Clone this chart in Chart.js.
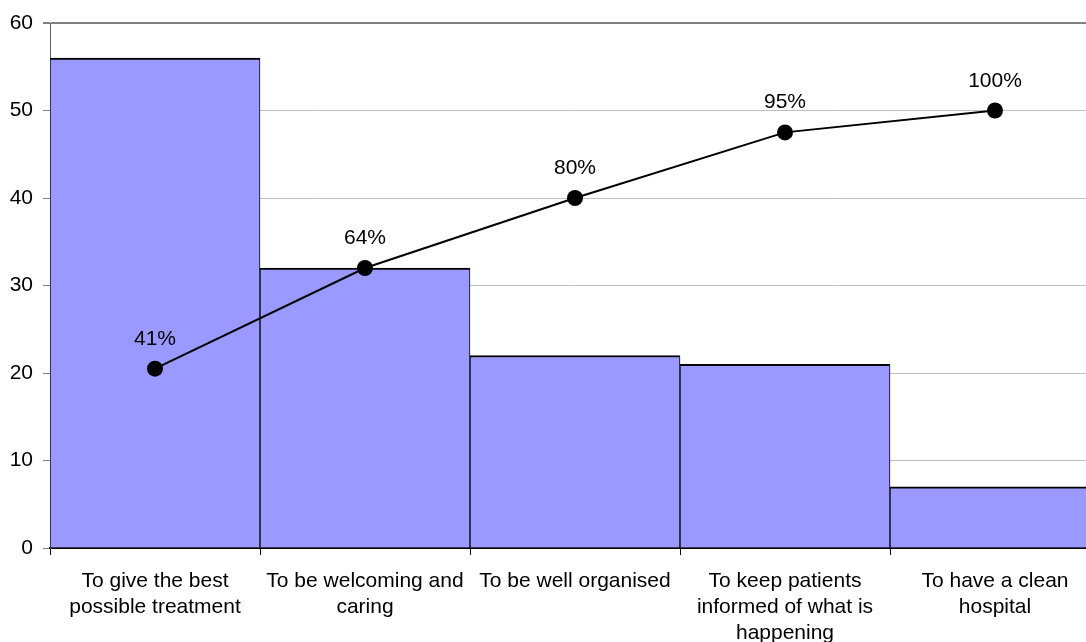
<!DOCTYPE html>
<html>
<head>
<meta charset="utf-8">
<script src="https://cdn.jsdelivr.net/npm/chart.js@4/dist/chart.umd.min.js"></script>
<style>
  html, body { margin: 0; padding: 0; background: #fff; overflow: hidden; width: 1086px; height: 642px; }
  #wrap { position: absolute; left: 0; top: 0; width: 1108px; height: 642px; }
</style>
</head>
<body>
<div id="wrap"><canvas id="c" width="1108" height="642"></canvas></div>
<script>
// Reasons patients gave, with counts and cumulative share
const categories = [
  ['To give the best', 'possible treatment'],
  ['To be welcoming and', 'caring'],
  ['To be well organised'],
  ['To keep patients', 'informed of what is', 'happening'],
  ['To have a clean', 'hospital']
];
const counts = [56, 32, 22, 21, 7];
const cumulativePercent = [41, 64, 80, 95, 100];
const yTicks = [0, 10, 20, 30, 40, 50, 60];

const FONT = { family: '"Liberation Sans", Arial, sans-serif', size: 21 };

const percentLabels = {
  id: 'percentLabels',
  afterDatasetsDraw(chart) {
    const meta = chart.getDatasetMeta(1);
    const ctx = chart.ctx;
    ctx.save();
    ctx.font = `${FONT.size}px ${FONT.family}`;
    ctx.fillStyle = '#000';
    ctx.textAlign = 'center';
    ctx.textBaseline = 'alphabetic';
    meta.data.forEach((pt, i) => {
      ctx.fillText(cumulativePercent[i] + '%', pt.x, pt.y - 24);
    });
    ctx.restore();
  }
};

new Chart(document.getElementById('c'), {
  data: {
    labels: categories,
    datasets: [
      {
        type: 'bar',
        data: counts,
        backgroundColor: '#9999ff',
        borderColor: '#000',
        borderWidth: { top: 2, left: 1, right: 1, bottom: 0 },
        borderSkipped: false,
        barPercentage: 1,
        categoryPercentage: 1,
        yAxisID: 'y',
        order: 1
      },
      {
        type: 'line',
        data: cumulativePercent,
        borderColor: '#000',
        borderWidth: 2,
        pointRadius: 8,
        pointBackgroundColor: '#000',
        pointBorderColor: '#000',
        pointBorderWidth: 0,
        tension: 0,
        fill: false,
        yAxisID: 'y2',
        order: 0
      }
    ]
  },
  options: {
    responsive: false,
    devicePixelRatio: 1,
    animation: false,
    layout: { padding: { top: 23, right: 0, bottom: 0, left: 0 } },
    plugins: { legend: { display: false }, tooltip: { enabled: false } },
    scales: {
      x: {
        offset: true,
        afterFit(scale) { scale.height = 94; },
        grid: {
          offset: true,
          drawOnChartArea: false,
          drawTicks: true,
          tickLength: 7,
          tickColor: '#000',
          color: '#000'
        },
        border: { display: true, color: '#000', width: 2 },
        ticks: {
          font: { ...FONT, lineHeight: 1.24 },
          color: '#000',
          padding: 13,
          maxRotation: 0,
          autoSkip: false
        }
      },
      y: {
        position: 'left',
        min: 0,
        max: 60,
        afterFit(scale) { scale.width = 50; },
        afterBuildTicks(scale) { scale.ticks = yTicks.map(v => ({ value: v })); },
        grid: {
          color: c => (c.tick && c.tick.value === 60 ? '#808080' : '#c0c0c0'),
          lineWidth: c => (c.tick && c.tick.value === 60 ? 2 : 1),
          tickColor: '#808080',
          tickLength: 7
        },
        border: { display: true, color: '#606060', width: 1 },
        ticks: {
          font: FONT,
          color: '#000',
          padding: 10
        }
      },
      y2: {
        display: false,
        min: 0,
        max: 120
      }
    }
  },
  plugins: [percentLabels]
});
</script>
</body>
</html>
